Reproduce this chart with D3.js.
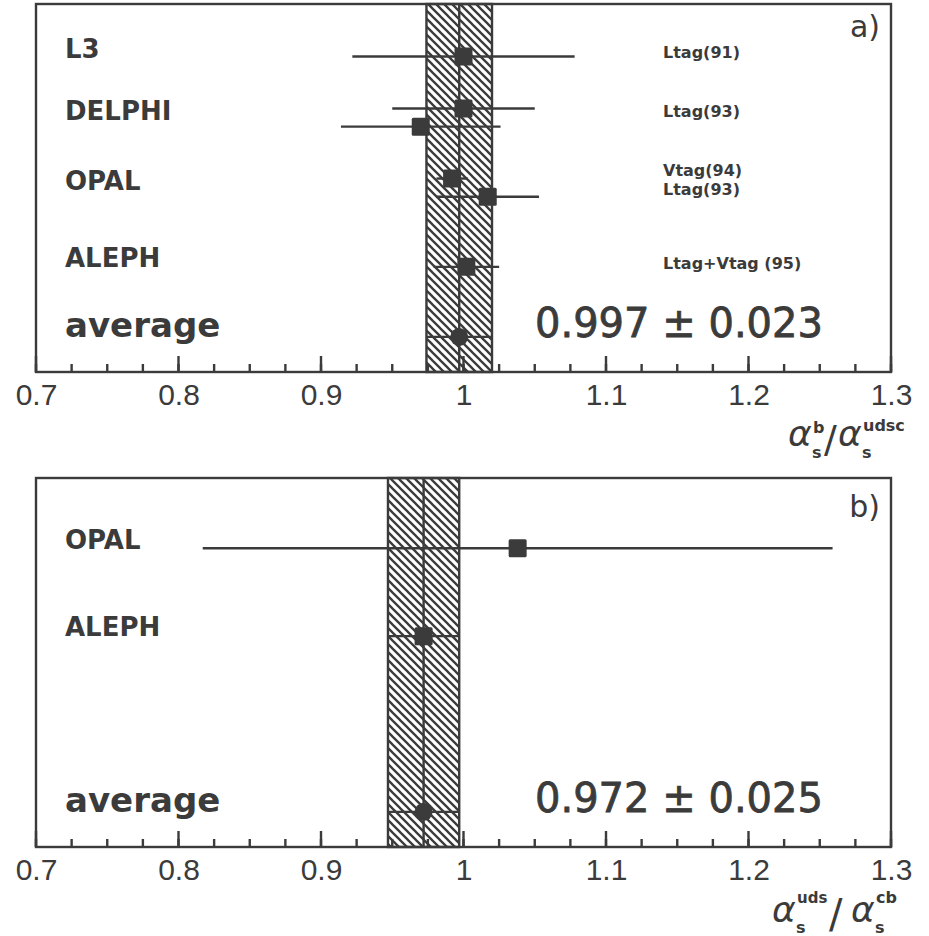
<!DOCTYPE html>
<html>
<head>
<meta charset="utf-8">
<script src="https://cdn.jsdelivr.net/npm/d3@7"></script>
<style>
  html, body { margin: 0; padding: 0; background: #fff; }
  svg { display: block; }
</style>
</head>
<body>
<script>
// ---------------- data ----------------
// Panel a) alpha_s^b / alpha_s^udsc
const aNames = ["L3", "DELPHI", "OPAL", "ALEPH"];
const aNameRows = [3.98, 3.10, 2.10, 1.00];
const aValues = [1.000, 1.000, 0.970, 0.992, 1.017, 1.002];
const aErrors = [0.078, 0.050, 0.056, 0.011, 0.036, 0.023];
const aRows = [4.0, 3.26, 3.0, 2.26, 2.0, 1.0];
const aTags = ["Ltag(91)", "Ltag(93)", "Vtag(94)", "Ltag(93)", "Ltag+Vtag (95)"];
const aTagRows = [3.98, 3.14, 2.30, 2.03, 0.97];
const aAverage = 0.997;
const aAverageErr = 0.023;

// Panel b) alpha_s^uds / alpha_s^cb
const bNames = ["OPAL", "ALEPH"];
const bNameRows = [3.74, 2.50];
const bValues = [1.038, 0.972];
const bErrors = [0.221, 0.025];
const bRows = [3.75, 2.50];
const bTags = [];
const bTagRows = [];
const bAverage = 0.972;
const bAverageErr = 0.025;

const xTicks = [0.7, 0.8, 0.9, 1.0, 1.1, 1.2, 1.3];
const xTickLabels = ["0.7", "0.8", "0.9", "1", "1.1", "1.2", "1.3"];
const panelLetters = ["a)", "b)"];
const averageLabel = "average";

// ---------------- drawing ----------------
const W = 929, H = 936;
const ink = "#3b3b3b";
const svg = d3.select("body").append("svg").attr("width", W).attr("height", H);

const defs = svg.append("defs");
const pat = defs.append("pattern").attr("id", "hatch")
  .attr("patternUnits", "userSpaceOnUse").attr("width", 8).attr("height", 8);
pat.append("rect").attr("width", 8).attr("height", 8).attr("fill", "#fff");
pat.append("path").attr("d", "M-1,-1 L9,9 M-1,7 L1,9 M7,-1 L9,1")
  .attr("stroke", ink).attr("stroke-width", 2.3);

const x = d3.scaleLinear().domain([0.7, 1.3]).range([36, 891]);
const minorTicks = d3.range(0, 25).map(i => 0.7 + i * 0.025);

const panels = [
  { top: 4, bottom: 372, names: aNames, nameRows: aNameRows, values: aValues, errors: aErrors,
    rows: aRows, tags: aTags, tagRows: aTagRows, avg: aAverage, avgErr: aAverageErr,
    letter: panelLetters[0], letterY: 37 },
  { top: 478, bottom: 847, names: bNames, nameRows: bNameRows, values: bValues, errors: bErrors,
    rows: bRows, tags: bTags, tagRows: bTagRows, avg: bAverage, avgErr: bAverageErr,
    letter: panelLetters[1], letterY: 517 }
];

panels.forEach(p => {
  const y = d3.scaleLinear().domain([-0.5, 4.75]).range([p.bottom, p.top]);
  const g = svg.append("g");

  // hatched band (average +- error)
  g.append("rect")
    .attr("x", x(p.avg - p.avgErr)).attr("y", p.top)
    .attr("width", x(p.avg + p.avgErr) - x(p.avg - p.avgErr))
    .attr("height", p.bottom - p.top)
    .attr("fill", "url(#hatch)").attr("stroke", ink).attr("stroke-width", 2.4);
  g.append("line")
    .attr("x1", x(p.avg)).attr("x2", x(p.avg))
    .attr("y1", p.top).attr("y2", p.bottom)
    .attr("stroke", ink).attr("stroke-width", 2.4);

  // frame
  g.append("rect").attr("x", x(0.7)).attr("y", p.top)
    .attr("width", x(1.3) - x(0.7)).attr("height", p.bottom - p.top)
    .attr("fill", "none").attr("stroke", ink).attr("stroke-width", 2.4);

  // ticks (inside, upward)
  g.selectAll(".minor").data(minorTicks).enter().append("line")
    .attr("x1", d => x(d)).attr("x2", d => x(d))
    .attr("y1", p.bottom).attr("y2", p.bottom - 8)
    .attr("stroke", ink).attr("stroke-width", 2.4);
  g.selectAll(".major").data(xTicks).enter().append("line")
    .attr("x1", d => x(d)).attr("x2", d => x(d))
    .attr("y1", p.bottom).attr("y2", p.bottom - 16)
    .attr("stroke", ink).attr("stroke-width", 2.4);

  // tick labels via d3 axis (lines hidden)
  const ax = g.append("g").attr("transform", `translate(0,${p.bottom})`)
    .call(d3.axisBottom(x).tickValues(xTicks).tickSize(0)
      .tickPadding(12).tickFormat((d, i) => xTickLabels[i]));
  ax.select(".domain").remove();
  ax.selectAll("line").remove();
  ax.selectAll("text").attr("fill", ink)
    .style("font-family", "'Liberation Sans', Arial, sans-serif").style("font-size", "30px");

  // error bars
  const pts = p.values.map((v, i) => ({ v, e: p.errors[i], r: p.rows[i] }));
  g.selectAll(".err").data(pts).enter().append("line")
    .attr("x1", d => x(d.v - d.e)).attr("x2", d => x(d.v + d.e))
    .attr("y1", d => y(d.r)).attr("y2", d => y(d.r))
    .attr("stroke", ink).attr("stroke-width", 2.4);
  g.selectAll(".mk").data(pts).enter().append("rect")
    .attr("x", d => x(d.v) - 9).attr("y", d => y(d.r) - 9)
    .attr("width", 18).attr("height", 18).attr("rx", 1.5)
    .attr("fill", ink);

  // average point
  g.append("line")
    .attr("x1", x(p.avg - p.avgErr)).attr("x2", x(p.avg + p.avgErr))
    .attr("y1", y(0)).attr("y2", y(0))
    .attr("stroke", ink).attr("stroke-width", 2.2);
  g.append("circle").attr("cx", x(p.avg)).attr("cy", y(0)).attr("r", 9).attr("fill", ink);

  // experiment names
  g.selectAll(".name").data(p.names).enter().append("text")
    .attr("x", 65).attr("y", (d, i) => y(p.nameRows[i]))
    .attr("fill", ink)
    .style("font-family", "'DejaVu Sans', sans-serif").style("font-weight", "bold")
    .style("font-size", "26px").text(d => d);
  g.append("text").attr("x", 65).attr("y", y(0))
    .attr("fill", ink)
    .style("font-family", "'DejaVu Sans', sans-serif").style("font-weight", "bold")
    .style("font-size", "34px").text(averageLabel);

  // tags
  g.selectAll(".tag").data(p.tags).enter().append("text")
    .attr("x", 663).attr("y", (d, i) => y(p.tagRows[i]))
    .attr("fill", ink)
    .style("font-family", "'DejaVu Sans', sans-serif").style("font-weight", "bold")
    .style("font-size", "16px").text(d => d);

  // average value text
  g.append("text").attr("x", 535).attr("y", y(0))
    .attr("fill", ink).attr("stroke", ink).attr("stroke-width", 0.8)
    .style("font-family", "'DejaVu Sans', sans-serif").style("font-size", "40px")
    .text(d3.format(".3f")(p.avg) + " \u00B1 " + d3.format(".3f")(p.avgErr));

  // panel letter
  g.append("text").attr("x", 880).attr("y", p.letterY).attr("text-anchor", "end")
    .attr("fill", ink)
    .style("font-family", "'DejaVu Sans', sans-serif").style("font-size", "30px")
    .text(p.letter);
});

// axis titles
function title(parts) {
  const t = svg.append("g").attr("fill", ink).style("font-family", "'DejaVu Sans', sans-serif");
  parts.forEach(pt => {
    t.append("text").attr("x", pt.x).attr("y", pt.y)
      .style("font-size", pt.s + "px")
      .style("font-style", pt.it ? "italic" : "normal")
      .style("font-weight", pt.b ? "bold" : "normal")
      .text(pt.t);
  });
}
title([
  { t: "\u03B1", x: 788, y: 446, s: 36, it: true },
  { t: "b", x: 813, y: 433, s: 16, b: true },
  { t: "s", x: 812, y: 458, s: 16, b: true },
  { t: "/", x: 824, y: 452, s: 38 },
  { t: "\u03B1", x: 838, y: 446, s: 36, it: true },
  { t: "udsc", x: 863, y: 431, s: 16, b: true },
  { t: "s", x: 862, y: 458, s: 16, b: true }
]);
title([
  { t: "\u03B1", x: 772, y: 922, s: 36, it: true },
  { t: "uds", x: 797, y: 903, s: 15, b: true },
  { t: "s", x: 796, y: 933, s: 16, b: true },
  { t: "/", x: 829, y: 928, s: 40 },
  { t: "\u03B1", x: 851, y: 922, s: 36, it: true },
  { t: "cb", x: 876, y: 903, s: 16, b: true },
  { t: "s", x: 875, y: 933, s: 16, b: true }
]);
</script>
</body>
</html>
